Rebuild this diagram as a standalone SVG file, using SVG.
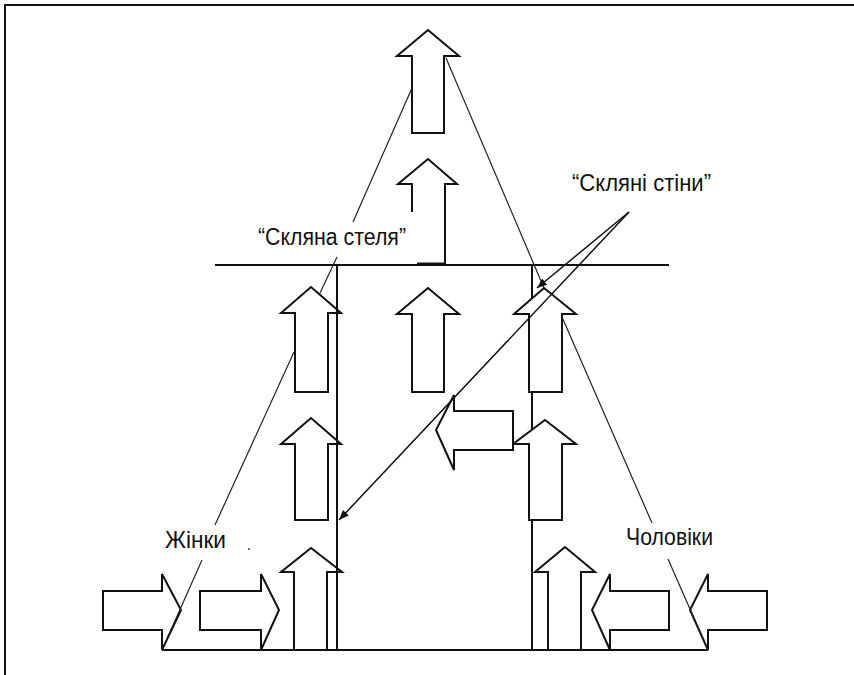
<svg xmlns="http://www.w3.org/2000/svg" width="854" height="675" viewBox="0 0 854 675">
<defs>
<style>
.ar{fill:#fff;stroke:#111;stroke-width:2;stroke-linejoin:miter}
.ln{fill:none;stroke:#111;stroke-width:2}
.thin{fill:none;stroke:#222;stroke-width:1.2}
.ga{fill:none;stroke:#111;stroke-width:1.5}
.lbl{font-family:"Liberation Sans","DejaVu Sans",sans-serif;font-size:23px;fill:#111}
</style>
<marker id="ah" viewBox="0 0 10 8" refX="10" refY="4" markerWidth="10" markerHeight="8" markerUnits="userSpaceOnUse" orient="auto">
<path d="M0,0 L10,4 L0,8 Z" fill="#111"/>
</marker>
</defs>
<rect width="854" height="675" fill="#fff"/>
<g id="frame"><path class="ln" d="M5,675 L5,5 L854,5" stroke-width="1.5"/></g>
<g id="right-wall"><path class="ln" d="M532,265 L532,650"/></g>
<g id="arrow-top"><path class="ar" d="M412,133 L412,56 L397,56 L428,30 L459,56 L444,56 L444,133 Z"/></g>
<g id="arrow-top2"><path class="ar" d="M412,212 L412,184 L398,184 L428,159 L457,184 L445,184 L445,264" fill="none"/><path d="M417,264 L445,264" stroke="#111" stroke-width="3"/></g>
<g id="arrow-mid"><path class="ar" d="M412,392 L412,314 L397,314 L428,288 L459,314 L444,314 L444,392 Z"/></g>
<g id="arrow-l1"><path class="ar" d="M295,392 L295,313 L281,313 L311,287 L341,313 L328,313 L328,392 Z"/></g>
<g id="arrow-l2"><path class="ar" d="M295,520 L295,444 L281,444 L311,418 L341,444 L328,444 L328,520 Z"/></g>
<g id="arrow-l3"><path class="ar" d="M294,650 L294,572 L281,572 L311,548 L342,572 L327,572 L327,650 Z"/></g>
<g id="arrow-r1"><path class="ar" d="M529,392 L529,314 L514,314 L544,288 L576,314 L562,314 L562,392 Z"/></g>
<g id="arrow-r2"><path class="ar" d="M529,520 L529,444 L513,444 L545,420 L576,444 L562,444 L562,520 Z"/></g>
<g id="arrow-r3"><path class="ar" d="M548,650 L548,572 L535,572 L565,547 L595,572 L581,572 L581,650 Z"/></g>
<g id="arrow-side"><path class="ar" d="M513,411 L454,411 L454,395 L436,430 L454,470 L454,450 L513,450 Z"/></g>
<g id="arrow-h1"><path class="ar" d="M103,591 L162,591 L162,574 L181,610 L162,650 L162,630 L103,630 Z"/></g>
<g id="arrow-h2"><path class="ar" d="M200,591 L261,591 L261,574 L279,610 L261,650 L261,630 L200,630 Z"/></g>
<g id="arrow-h3"><path class="ar" d="M669,591 L610,591 L610,574 L592,610 L610,650 L610,630 L669,630 Z"/></g>
<g id="arrow-h4"><path class="ar" d="M767,591 L708,591 L708,574 L690,610 L708,650 L708,630 L767,630 Z"/></g>
<g id="left-wall"><path class="ln" d="M337,265 L337,650"/></g>
<g id="ceiling"><path class="ln" d="M215,265 L669,265"/></g>
<g id="ground"><path class="ln" d="M162,650 L708,650"/></g>
<g id="connectors">
<path class="thin" d="M412,88 L353,222 M337,257 L320,293"/>
<path class="thin" d="M446,58 L544,288"/>
<path class="thin" d="M294,352 L215,525 M202,560 L162,650"/>
<path class="thin" d="M562,317 L652,523 M668,559 L708,650"/>
<path class="ga" d="M629,212 L537,288" marker-end="url(#ah)"/>
<path class="ga" d="M629,212 L339,520" marker-end="url(#ah)"/>
</g>
<circle cx="249" cy="549" r="0.9" fill="#333"/>
<g id="labels">
<text class="lbl" x="258" y="245" textLength="148" lengthAdjust="spacingAndGlyphs">“Скляна стеля”</text>
<text class="lbl" x="572" y="191" textLength="139" lengthAdjust="spacingAndGlyphs">“Скляні стіни”</text>
<text class="lbl" x="165" y="548" textLength="61" lengthAdjust="spacingAndGlyphs">Жінки</text>
<text class="lbl" x="626" y="545" textLength="87" lengthAdjust="spacingAndGlyphs">Чоловіки</text>
</g>
</svg>
